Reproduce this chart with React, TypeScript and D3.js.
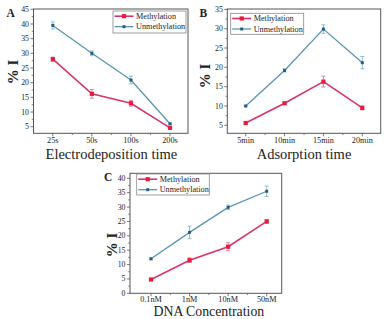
import React from "react";
import * as d3 from "d3";

const catsA = ["25s", "50s", "100s", "200s"];
const methA = [28, 16.2, 13, 4.6];
const methErrA = [0.7, 1.5, 1.0, 0.3];
const unmethA = [39.5, 30, 20.9, 6];
const unmethErrA = [1.2, 0.8, 1.3, 0.3];
const yTicksA = [5, 10, 15, 20, 25, 30, 35, 40, 45];

const catsB = ["5min", "10min", "15min", "20min"];
const methB = [5.6, 10.7, 16.3, 9.5];
const methErrB = [0.4, 0.3, 1.4, 0.5];
const unmethB = [10, 19.2, 29.9, 21.2];
const unmethErrB = [0.2, 0.4, 1.1, 1.6];
const yTicksB = [5, 10, 15, 20, 25, 30, 35];

const catsC = ["0.1nM", "1nM", "10nM", "50nM"];
const methC = [4.8, 11.5, 16.2, 25];
const methErrC = [0.3, 0.8, 1.4, 0.6];
const unmethC = [12, 21.2, 29.9, 35.5];
const unmethErrC = [0.3, 2.2, 0.8, 1.8];
const yTicksC = [0, 5, 10, 15, 20, 25, 30, 35, 40];

const seriesNames = ["Methylation", "Unmethylation"];

const FONT = "'Liberation Serif', 'Times New Roman', serif";
const MLINE = "#d9336f";
const MMARK = "#ec1a3a";
const MERR = "#d77a95";
const ULINE = "#5b94b2";
const UMARK = "#23607f";
const UERR = "#86b4cc";
const AX = "#555";

type PanelProps = {
  letter: string;
  cats: string[];
  meth: number[];
  methErr: number[];
  unmeth: number[];
  unmethErr: number[];
  yTicks: number[];
  yDomain: [number, number];
  frame: { x0: number; x1: number; y0: number; y1: number };
  pts: [number, number];
  title: string;
  legend: { x: number; y: number; w: number; h: number };
  letterPos: [number, number];
  ylabPos: [number, number];
  titleY: number;
  titleSize: number;
  tickOff: number;
};

function Panel(p: PanelProps) {
  const { frame } = p;
  const x = d3.scalePoint<string>().domain(p.cats).range(p.pts);
  const y = d3.scaleLinear().domain(p.yDomain).range([frame.y1, frame.y0]);
  const step = x.step();
  const minorY: number[] = [];
  for (let i = 0; i < p.yTicks.length; i++) {
    const v = p.yTicks[i] + (p.yTicks[1] - p.yTicks[0]) / 2;
    if (v > p.yDomain[0] && v < p.yDomain[1]) minorY.push(v);
  }
  const lineGen = d3
    .line<number>()
    .x((_, i) => x(p.cats[i]) as number)
    .y((d) => y(d));
  const series = [
    { vals: p.meth, errs: p.methErr, line: MLINE, mark: MMARK, err: MERR, lw: 1.6, sq: 4.2 },
    { vals: p.unmeth, errs: p.unmethErr, line: ULINE, mark: UMARK, err: UERR, lw: 1.3, sq: 3 },
  ];
  const tx = ((x(p.cats[0]) as number) + (x(p.cats[p.cats.length - 1]) as number)) / 2;
  return (
    <g>
      <rect
        x={frame.x0}
        y={frame.y0}
        width={frame.x1 - frame.x0}
        height={frame.y1 - frame.y0}
        fill="none"
        stroke={AX}
        strokeWidth={1}
      />
      {p.yTicks.map((t) => (
        <g key={"yt" + t}>
          <line x1={frame.x0 - 3} x2={frame.x0} y1={y(t)} y2={y(t)} stroke={AX} strokeWidth={0.8} />
          <text
            x={frame.x0 - 4.5}
            y={y(t)}
            dy="0.33em"
            textAnchor="end"
            fontSize={7.8}
            fontFamily={FONT}
            fill="#222"
          >
            {t}
          </text>
        </g>
      ))}
      {minorY.map((t) => (
        <line key={"ym" + t} x1={frame.x0 - 1.8} x2={frame.x0} y1={y(t)} y2={y(t)} stroke={AX} strokeWidth={0.7} />
      ))}
      {p.cats.map((c) => (
        <g key={"xt" + c}>
          <line x1={x(c)} x2={x(c)} y1={frame.y1} y2={frame.y1 + 3} stroke={AX} strokeWidth={0.8} />
          <text
            x={x(c)}
            y={frame.y1 + p.tickOff}
            textAnchor="middle"
            fontSize={8.2}
            fontFamily={FONT}
            fill="#222"
          >
            {c}
          </text>
        </g>
      ))}
      {p.cats.slice(0, -1).map((c) => (
        <line
          key={"xm" + c}
          x1={(x(c) as number) + step / 2}
          x2={(x(c) as number) + step / 2}
          y1={frame.y1}
          y2={frame.y1 + 1.8}
          stroke={AX}
          strokeWidth={0.7}
        />
      ))}
      {series.map((s, si) => (
        <g key={"s" + si}>
          <path d={lineGen(s.vals) || ""} fill="none" stroke={s.line} strokeWidth={s.lw} />
          {s.vals.map((v, i) => {
            const cx = x(p.cats[i]) as number;
            const e = s.errs[i];
            return (
              <g key={i}>
                <line x1={cx} x2={cx} y1={y(v - e)} y2={y(v + e)} stroke={s.err} strokeWidth={0.9} />
                <line x1={cx - 2} x2={cx + 2} y1={y(v - e)} y2={y(v - e)} stroke={s.err} strokeWidth={0.9} />
                <line x1={cx - 2} x2={cx + 2} y1={y(v + e)} y2={y(v + e)} stroke={s.err} strokeWidth={0.9} />
                <rect x={cx - s.sq / 2} y={y(v) - s.sq / 2} width={s.sq} height={s.sq} fill={s.mark} />
              </g>
            );
          })}
        </g>
      ))}
      <rect
        x={p.legend.x}
        y={p.legend.y}
        width={p.legend.w}
        height={p.legend.h}
        fill="white"
        stroke="#888"
        strokeWidth={0.8}
      />
      {seriesNames.map((n, i) => {
        const s = series[i];
        const ly = p.legend.y + 5.2 + i * 10.5;
        const lx0 = p.legend.x + 1.5;
        const lx1 = lx0 + 19;
        return (
          <g key={"lg" + n}>
            <line x1={lx0} x2={lx1} y1={ly} y2={ly} stroke={s.line} strokeWidth={s.lw} />
            <rect x={(lx0 + lx1) / 2 - s.sq / 2} y={ly - s.sq / 2} width={s.sq} height={s.sq} fill={s.mark} />
            <text x={lx1 + 2.5} y={ly} dy="0.33em" fontSize={8.2} fontFamily={FONT} fill="#222">
              {n}
            </text>
          </g>
        );
      })}
      <text
        x={p.letterPos[0]}
        y={p.letterPos[1]}
        fontSize={11.5}
        fontWeight="bold"
        fontFamily={FONT}
        fill="#222"
      >
        {p.letter}
      </text>
      <text
        transform={`translate(${p.ylabPos[0]},${p.ylabPos[1]}) rotate(-90)`}
        textAnchor="middle"
        dy="0.35em"
        fontSize={15}
        fontWeight="bold"
        fontFamily={FONT}
        fill="#222"
      >
        % I
      </text>
      <text x={tx} y={p.titleY} textAnchor="middle" fontSize={p.titleSize} fontFamily={FONT} fill="#222">
        {p.title}
      </text>
    </g>
  );
}

export default function App() {
  return (
    <svg
      width={386}
      height={319}
      style={{ position: "absolute", left: 0, top: 0, background: "white" }}
    >
      <rect x={0} y={0} width={386} height={319} fill="white" />
      <Panel
        letter="A"
        cats={catsA}
        meth={methA}
        methErr={methErrA}
        unmeth={unmethA}
        unmethErr={unmethErrA}
        yTicks={yTicksA}
        yDomain={[2.75, 45.1]}
        frame={{ x0: 33.5, x1: 188, y0: 9, y1: 133.3 }}
        pts={[52.8, 170]}
        title="Electrodeposition time"
        legend={{ x: 113, y: 11, w: 73, h: 22 }}
        letterPos={[6.5, 17]}
        ylabPos={[12.5, 72]}
        titleY={158.5}
        titleSize={14.5}
        tickOff={10}
      />
      <Panel
        letter="B"
        cats={catsB}
        meth={methB}
        methErr={methErrB}
        unmeth={unmethB}
        unmethErr={unmethErrB}
        yTicks={yTicksB}
        yDomain={[2.93, 35.1]}
        frame={{ x0: 227.3, x1: 380.7, y0: 9, y1: 133.3 }}
        pts={[245.7, 362.3]}
        title="Adsorption time"
        legend={{ x: 230.7, y: 13.3, w: 73, h: 21 }}
        letterPos={[199.5, 17]}
        ylabPos={[205, 76]}
        titleY={158.5}
        titleSize={14.5}
        tickOff={10}
      />
      <Panel
        letter="C"
        cats={catsC}
        meth={methC}
        methErr={methErrC}
        unmeth={unmethC}
        unmethErr={unmethErrC}
        yTicks={yTicksC}
        yDomain={[0, 41.74]}
        frame={{ x0: 130, x1: 281.7, y0: 173.3, y1: 293.3 }}
        pts={[151, 266.7]}
        title="DNA Concentration"
        legend={{ x: 136.7, y: 174, w: 72.6, h: 21 }}
        letterPos={[104, 181]}
        ylabPos={[111.5, 245]}
        titleY={315.6}
        titleSize={13.8}
        tickOff={8.3}
      />
    </svg>
  );
}
